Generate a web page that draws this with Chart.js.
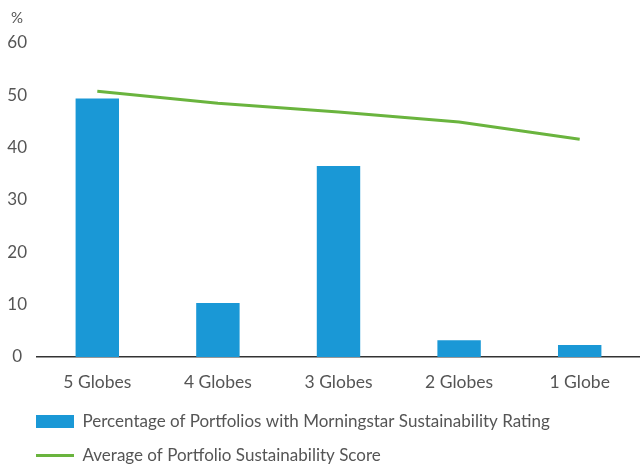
<!DOCTYPE html>
<html>
<head>
<meta charset="utf-8">
<script src="https://cdn.jsdelivr.net/npm/chart.js@4.4.0/dist/chart.umd.min.js"></script>
<style>
  html, body { margin: 0; padding: 0; background: #fff; }
  #wrap { width: 640px; height: 468px; }
</style>
</head>
<body>
<div id="wrap"><canvas id="chart"></canvas></div>
<script>
// data
const categories = ['5 Globes', '4 Globes', '3 Globes', '2 Globes', '1 Globe'];
const portfolioPct = [49.4, 10.3, 36.5, 3.2, 2.3];
const avgScore = [50.8, 48.5, 46.8, 44.9, 41.6];
const yTicks = [0, 10, 20, 30, 40, 50, 60];

const textColor = '#555555';
const fontFamily = 'Lato, "Liberation Sans", sans-serif';

// legend tweaks (tighter box, nudged into place) and the "%" unit label
const layoutTweaks = {
    id: 'layoutTweaks',
    afterInit(chart) {
        const legend = chart.legend;
        const fit = legend.fit.bind(legend);
        legend.fit = function() {
            fit();
            this.height -= 18;
        };
    },
    afterLayout(chart) {
        chart.legend.left = 19;
        chart.legend.top -= 12;
    },
    afterDraw(chart) {
        const ctx = chart.ctx;
        ctx.save();
        ctx.font = '15px ' + fontFamily;
        ctx.fillStyle = textColor;
        ctx.textAlign = 'center';
        ctx.textBaseline = 'middle';
        ctx.fillText('%', 17, 18);
        ctx.restore();
    }
};

new Chart(document.getElementById('chart'), {
    data: {
        labels: categories,
        datasets: [{
            type: 'line',
            label: 'Average of Portfolio Sustainability Score',
            data: avgScore,
            borderColor: '#6ab43e',
            backgroundColor: '#6ab43e',
            borderWidth: 3,
            pointRadius: 0,
            tension: 0,
            pointStyle: 'line',
            order: 0
        }, {
            type: 'bar',
            label: 'Percentage of Portfolios with Morningstar Sustainability Rating',
            data: portfolioPct,
            backgroundColor: '#1a98d6',
            borderWidth: 0,
            barPercentage: 0.36,
            categoryPercentage: 1,
            pointStyle: 'rect',
            order: 1
        }]
    },
    options: {
        responsive: true,
        maintainAspectRatio: false,
        animation: false,
        layout: { padding: { left: 0, right: 0, top: 43, bottom: 0 } },
        plugins: {
            tooltip: { enabled: false },
            legend: {
                position: 'bottom',
                align: 'start',
                reverse: true,
                labels: {
                    usePointStyle: true,
                    pointStyleWidth: 38,
                    boxHeight: 13,
                    padding: 17,
                    color: textColor,
                    font: { family: fontFamily, size: 17 }
                }
            }
        },
        scales: {
            x: {
                grid: { display: false, drawTicks: false },
                border: { display: true, color: '#333333', width: 1.5 },
                ticks: {
                    color: textColor,
                    padding: 15,
                    font: { family: fontFamily, size: 17.5 }
                }
            },
            y: {
                min: 0,
                max: 60,
                afterBuildTicks(axis) {
                    axis.ticks = yTicks.map(v => ({ value: v }));
                },
                afterFit(axis) {
                    axis.width = 37;
                },
                grid: { display: false, drawTicks: true, tickLength: 10 },
                border: { display: false },
                ticks: {
                    color: textColor,
                    crossAlign: 'center',
                    padding: 0,
                    font: { family: fontFamily, size: 17 }
                }
            }
        }
    },
    plugins: [layoutTweaks]
});
</script>
</body>
</html>
